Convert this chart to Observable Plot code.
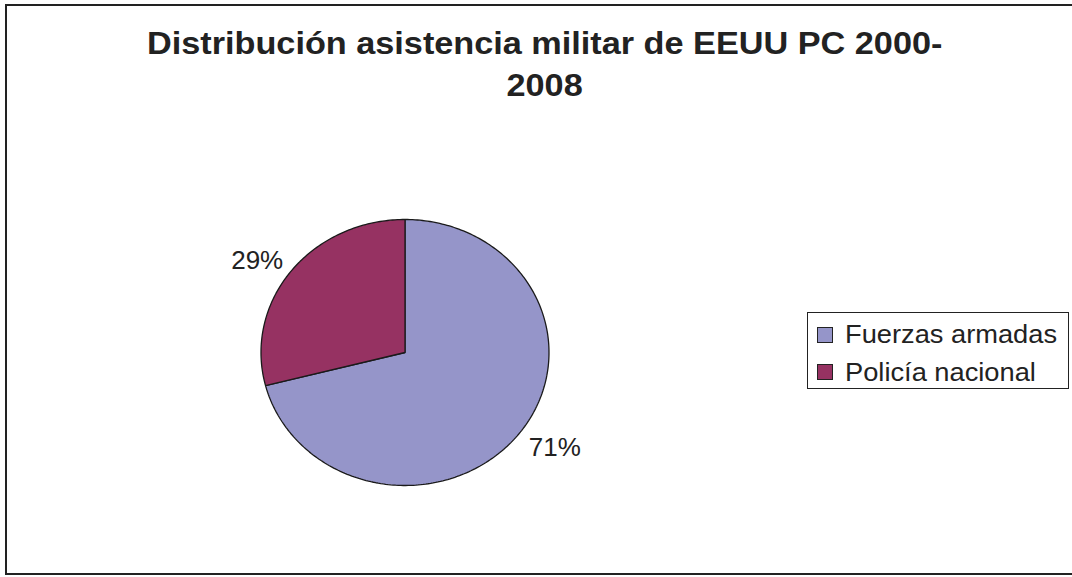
<!DOCTYPE html>
<html>
<head>
<meta charset="utf-8">
<script src="https://cdn.jsdelivr.net/npm/d3@7"></script>
<script src="https://cdn.jsdelivr.net/npm/@observablehq/plot@0.6"></script>
<style>
  html, body { margin: 0; padding: 0; background: #fff; }
  #wrap { position: relative; width: 1072px; height: 577px; overflow: hidden; font-family: "Liberation Sans", Arial, sans-serif; color: #222; }
  #wrap svg { position: absolute; left: 0; top: 0; }
  #border { position: absolute; left: 5px; top: 4px; width: 1100px; height: 571px; box-sizing: border-box; border: 2px solid #222; }
  #title { position: absolute; left: 0; top: 22px; width: 1090px; text-align: center; font-weight: bold; font-size: 32px; line-height: 42px; }
  #title span { display: inline-block; transform: scaleX(1.07); transform-origin: center; }
  #legend { position: absolute; left: 807px; top: 312px; width: 262px; height: 77px; box-sizing: border-box; border: 1px solid #222; background: #fff; }
  .sw { position: absolute; left: 9px; width: 16px; height: 16px; box-sizing: border-box; border: 1px solid #222; }
  .lab { position: absolute; left: 37px; font-size: 25px; line-height: 25px; white-space: nowrap; transform: scaleX(1.09); transform-origin: left; }
</style>
</head>
<body>
<div id="wrap">
  <div id="border"></div>
  <div id="chart"></div>
  <div id="title"><span>Distribución asistencia militar de EEUU PC 2000-</span><br><span>2008</span></div>
  <div id="legend"></div>
</div>
<script>
const categories = ["Fuerzas armadas", "Policía nacional"];
const shares = [71, 29];
const pctLabels = ["71%", "29%"];
const colors = ["#9595C9", "#963262"];

const total = d3.sum(shares);
let cum = 0;
const slices = categories.map((name, i) => {
  const a0 = cum / total * 2 * Math.PI;
  cum += shares[i];
  const a1 = cum / total * 2 * Math.PI;
  const n = Math.max(2, Math.ceil((a1 - a0) / (2 * Math.PI) * 360));
  const pts = [{x: 0, y: 0}];
  for (let k = 0; k <= n; k++) {
    const t = a0 + (a1 - a0) * k / n;
    pts.push({x: Math.sin(t), y: Math.cos(t)});
  }
  const mid = (a0 + a1) / 2;
  return {name, color: colors[i], label: pctLabels[i], pts, lx: Math.sin(mid), ly: Math.cos(mid)};
});

const rightLabels = slices.filter(s => s.lx >= 0);
const leftLabels = slices.filter(s => s.lx < 0);

const chart = Plot.plot({
  width: 1072,
  height: 577,
  margin: 0,
  style: {background: "transparent", fontFamily: "Liberation Sans, Arial, sans-serif"},
  x: {domain: [-1, 1], range: [260.5, 548.5], axis: null},
  y: {domain: [-1, 1], range: [485, 219], axis: null},
  marks: [
    ...slices.map(s => Plot.line(s.pts, {x: "x", y: "y", curve: "linear-closed", fill: s.color, stroke: "#1a1a1a", strokeWidth: 1.3, strokeLinejoin: "miter"})),
    Plot.text(rightLabels, {x: "lx", y: "ly", text: "label", textAnchor: "start", lineAnchor: "top", dx: 10, dy: 4, fontSize: 26, fill: "#222"}),
    Plot.text(leftLabels, {x: "lx", y: "ly", text: "label", textAnchor: "end", lineAnchor: "bottom", dx: -8, dy: -2, fontSize: 26, fill: "#222"})
  ]
});
document.getElementById("chart").appendChild(chart);

const legend = document.getElementById("legend");
categories.forEach((name, i) => {
  const sw = document.createElement("div");
  sw.className = "sw";
  sw.style.top = (14 + i * 37) + "px";
  sw.style.background = colors[i];
  legend.appendChild(sw);
  const lab = document.createElement("div");
  lab.className = "lab";
  lab.style.top = (9 + i * 38) + "px";
  lab.textContent = name;
  legend.appendChild(lab);
});
</script>
</body>
</html>
